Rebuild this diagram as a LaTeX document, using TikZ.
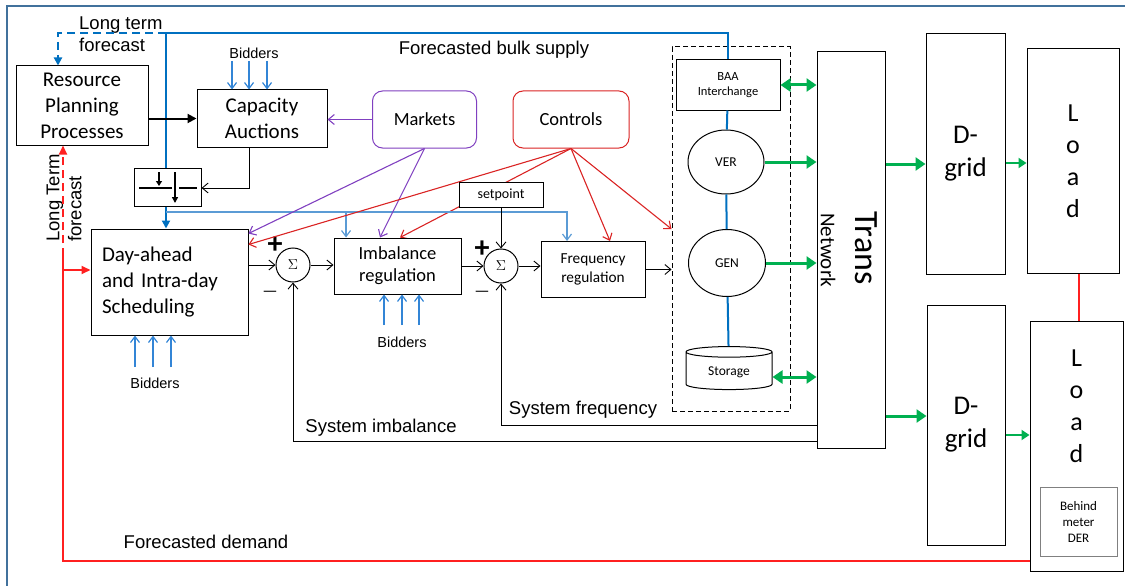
\documentclass[tikz,border=0pt]{standalone}
\usepackage{fontspec}
\setmainfont{Carlito}
\newfontfamily\arialf{Liberation Sans}
\usetikzlibrary{shapes.geometric, arrows.meta, positioning, backgrounds}
\definecolor{lineblue}{RGB}{0,112,192}
\definecolor{thinblue}{RGB}{91,155,213}
\definecolor{bidblue}{RGB}{51,133,214}
\definecolor{mktpurple}{RGB}{128,64,192}
\definecolor{ctrlred}{RGB}{218,36,36}
\definecolor{fcred}{RGB}{255,32,32}
\definecolor{flowgreen}{RGB}{0,176,80}
\definecolor{frameblue}{RGB}{65,113,156}
\newcommand{\fbig}{\fontsize{21}{26}\selectfont}
\newcommand{\fmid}{\fontsize{18.5}{22}\selectfont}
\newcommand{\fsmall}{\fontsize{13.5}{15}\selectfont}

\begin{document}
\begin{tikzpicture}[
  x=1pt, y=-1pt,
  box/.style={rectangle, draw, line width=1pt, fill=white, align=center, inner sep=2pt},
  softbox/.style={rectangle, rounded corners=10pt, draw, line width=1pt, fill=white, align=center, font=\fmid},
  sumnode/.style={circle, draw, line width=1pt, minimum size=34pt, inner sep=0pt, fill=white, font=\fontsize{15}{16}\selectfont},
  sign/.style={font=\fontsize{30}{30}\selectfont\bfseries, inner sep=0pt},
  minus/.style={font=\fontsize{17}{17}\selectfont, inner sep=0pt},
  lbl/.style={font=\arialf\fontsize{18.5}{22}\selectfont, inner sep=1pt},
  bidlbl/.style={font=\arialf\fontsize{14.5}{17}\selectfont, inner sep=1pt},
  sig/.style={line width=0.9pt, -{Straight Barb[length=6pt,width=10pt]}},
  bidarrow/.style={bidblue, line width=1.2pt, -{Straight Barb[length=6pt,width=9pt]}},
  feed/.style={lineblue, line width=2pt},
  flow/.style={flowgreen, line width=3pt, -{Triangle[length=10pt,width=13pt]}},
  demand/.style={fcred, line width=2pt},
  longdash/.style={dash pattern=on 8pt off 5pt}
]
  \useasboundingbox (0,0) rectangle (1125,586);
  \draw[frameblue, line width=2pt] (7,586) -- (7,6) -- (1125,6);

  % planning and markets
  \node[box, minimum width=132pt, minimum height=79pt, font=\fbig] (rpp) at (82,105.5) {Resource\\Planning\\Processes};
  \node[box, minimum width=130pt, minimum height=57pt, font=\fbig] (cap) at (262,118.5) {Capacity\\Auctions};
  \node[softbox, draw=mktpurple, minimum width=104pt, minimum height=57pt] (mkt) at (424.5,119.5) {Markets};
  \node[softbox, draw=ctrlred, minimum width=116pt, minimum height=57pt] (ctrl) at (571,119.5) {Controls};
  \node[box, minimum width=67pt, minimum height=38pt] (sw) at (167.5,187) {};

  % scheduling and regulation
  \node[box, minimum width=157pt, minimum height=106pt, text width=135pt, inner xsep=11pt, align=left, font=\fbig] (day) at (169.5,282) {Day-ahead\\and Intra-day\\Scheduling};
  \node[sumnode] (sum1) at (293,265) {$\Sigma$};
  \node[box, minimum width=127pt, minimum height=56pt, font=\fmid] (imb) at (397.5,266) {Imbalance\\regulation};
  \node[sumnode] (sum2) at (501,266) {$\Sigma$};
  \node[box, minimum width=104pt, minimum height=56pt, font=\fontsize{15.3}{19}\selectfont] (freq) at (593,269.5) {Frequency\\regulation};

  % resources
  \node[draw, dash pattern=on 5pt off 3pt, line width=1pt, minimum width=118pt, minimum height=364pt] (grp) at (731,229) {};
  \node[box, minimum width=104pt, minimum height=50pt, font=\fontsize{12.5}{15}\selectfont] (baa) at (728,85) {BAA\\Interchange};
  \node[ellipse, draw, line width=1pt, fill=white, minimum width=76pt, minimum height=64pt, font=\fsmall] (ver) at (726,162) {VER};
  \node[ellipse, draw, line width=1pt, fill=white, minimum width=77pt, minimum height=67pt, font=\fsmall] (gen) at (727,263) {GEN};
  \node[cylinder, shape border rotate=90, aspect=0.22, draw, line width=1pt, fill=white, minimum width=86pt, minimum height=43pt, font=\fsmall] (sto) at (729,372) {Storage};

  % network, distribution, load
  \node[box, minimum width=68pt, minimum height=397pt] (trans) at (851,250) {};
  \node[rotate=-90, font=\fontsize{34}{40}\selectfont] (transl) at (866,248) {Trans};
  \node[rotate=-90, font=\fontsize{21}{24}\selectfont] (netl) at (828,250) {Network};
  \node[box, minimum width=79pt, minimum height=240pt, font=\fontsize{27}{33}\selectfont] (dg1) at (965.5,154) {D-\\grid};
  \node[box, minimum width=78pt, minimum height=240pt, font=\fontsize{27}{33}\selectfont] (dg2) at (966,425) {D-\\grid};
  \node[box, minimum width=92pt, minimum height=224pt, font=\fontsize{26}{32}\selectfont] (ld1) at (1073,161) {L\\o\\a\\d};
  \node[box, minimum width=93pt, minimum height=250pt] (ld2) at (1076.5,446) {};
  \node[font=\fontsize{26}{32}\selectfont, align=center] (ld2l) at (1076.5,406) {L\\o\\a\\d};
  \node[box, draw=gray, minimum width=77pt, minimum height=69pt, font=\fontsize{13}{16}\selectfont] (der) at (1078.5,521.5) {Behind\\meter\\DER};

  % labels
  \node[lbl, anchor=west, align=left, fill=white] (ltf) at (78,34) {Long term\\forecast};
  \node[lbl, rotate=90, align=left] (ltf2) at (64,198) {Long Term\\forecast};
  \node[lbl] (bulk) at (494,50) {Forecasted bulk supply};
  \node[bidlbl] (bid1) at (254,53) {Bidders};
  \node[bidlbl] (bid2) at (155,383) {Bidders};
  \node[bidlbl] (bid3) at (402,342) {Bidders};
  \node[lbl] (sysimb) at (381,428) {System imbalance};
  \node[lbl] (sysfreq) at (583,410) {System frequency};
  \node[lbl] (fdem) at (206,542) {Forecasted demand};
  \node[sign] (p1) at (275,245) {+};
  \node[minus] (m1) at (270,294) {—};
  \node[sign] (p2) at (482,249) {+};
  \node[minus] (m2) at (482,294) {—};

  % bulk supply feeds
  \coordinate (fork) at (166,33);
  \draw[feed, longdash, -{Triangle[length=8pt,width=8pt]}] (fork) -- (58,33) -- (rpp.north -| 58,0);
  \draw[feed] (fork) -- (baa.north |- fork) -- (baa.north);
  \draw[feed] (fork) -- (sw.north -| fork);
  \draw[feed, -{Triangle[length=8pt,width=8pt]}] (sw.south -| fork) -- (day.north -| fork);
  \draw[thinblue, line width=1.2pt, -{Straight Barb[length=6pt,width=9pt]}] (fork |- 0,212) -- (567,212) -- (freq.north -| 567,0);
  \draw[thinblue, line width=1.2pt, -{Straight Barb[length=6pt,width=9pt]}] (346,212) -- (imb.north -| 346,0);
  \draw[feed] (baa) -- (ver);
  \draw[feed] (ver) -- (gen);
  \draw[feed] (gen) -- (sto);

  % switch
  \draw[line width=2pt] (139,188) -- (172,188) (179,188) -- (197,188);
  \draw[line width=1.6pt, -{Triangle[length=6pt,width=6pt]}] (175,172) -- (175,203);
  \draw[line width=1.6pt, -{Triangle[length=5pt,width=6pt]}] (159,172) -- (159,186);

  % bidders
  \foreach \x in {232,249,267} \draw[bidarrow] (\x,61) -- (cap.north -| \x,0);
  \foreach \x in {135,153,171} \draw[bidarrow] (\x,367) -- (day.south -| \x,0);
  \foreach \x in {384,402,419} \draw[bidarrow] (\x,325) -- (imb.south -| \x,0);

  % signal chain
  \draw[line width=2pt, -{Triangle[length=9pt,width=9pt]}] (rpp.east |- cap.west) -- (cap.west);
  \draw[sig] (cap.south -| 249,0) -- (249,188) -- (sw.east |- 0,188);
  \draw[sig] (day.east |- sum1.west) -- (sum1.west);
  \draw[sig] (sum1.east) -- (imb.west |- sum1.east);
  \draw[sig] (imb.east |- sum2.west) -- (sum2.west);
  \draw[sig] (sum2.east) -- (freq.west |- sum2.east);
  \draw[sig] (freq.east) -- (freq.east -| grp.west);
  \draw[sig] (trans.west |- 0,441) -- (sum1.south |- 0,441) -- (sum1.south);
  \draw[sig] (trans.west |- 0,425) -- (sum2.south |- 0,425) -- (sum2.south);

  % markets and controls
  \draw[mktpurple, line width=1.1pt, -{Straight Barb[length=6pt,width=10pt]}] (mkt.west) -- (cap.east |- mkt.west);
  \draw[mktpurple, line width=1.1pt, -{Straight Barb[length=6pt,width=10pt]}] (mkt.south) -- ([yshift=-5pt]day.north east);
  \draw[mktpurple, line width=1.1pt, -{Straight Barb[length=6pt,width=10pt]}] (mkt.south) -- (imb.north -| 380,0);
  \draw[ctrlred, line width=1.1pt, -{Straight Barb[length=6pt,width=10pt]}] (ctrl.south) -- ([yshift=-16pt]day.north east);
  \begin{scope}[on background layer]
    \draw[ctrlred, line width=1.1pt, -{Straight Barb[length=6pt,width=10pt]}] (ctrl.south) -- (imb.north -| 400,0);
  \end{scope}
  \draw[ctrlred, line width=1.1pt, -{Straight Barb[length=6pt,width=10pt]}] (ctrl.south) -- (freq.north -| 610,0);
  \draw[ctrlred, line width=1.1pt, -{Straight Barb[length=6pt,width=10pt]}] (ctrl.south) -- (grp.west);
  \node[box, minimum width=84pt, minimum height=25pt, font=\fontsize{14}{16}\selectfont] (setp) at (501,194.5) {setpoint};
  \draw[sig] (setp.south) -- (sum2.north);

  % power flows
  \draw[flow, {Triangle[length=10pt,width=13pt]}-{Triangle[length=10pt,width=13pt]}] (baa.east) -- (baa.east -| trans.west);
  \draw[flow] (ver.east) -- (ver.east -| trans.west);
  \draw[flow] (gen.east) -- (gen.east -| trans.west);
  \draw[flow, {Triangle[length=10pt,width=13pt]}-{Triangle[length=10pt,width=13pt]}] (sto.east |- 0,377) -- (trans.west |- 0,377);
  \draw[flow] (trans.east |- 0,164) -- (dg1.west |- 0,164);
  \draw[flow] (trans.east |- 0,416) -- (dg2.west |- 0,416);
  \draw[flow, line width=2.5pt, -{Triangle[length=8pt,width=10pt]}] (dg1.east |- 0,163) -- (ld1.west |- 0,163);
  \draw[flow, line width=2.5pt, -{Triangle[length=8pt,width=10pt]}] (dg2.east |- 0,435) -- (ld2.west |- 0,435);

  % forecasted demand
  \draw[demand] ([xshift=6pt]ld1.south) -- ([xshift=6pt]ld1.south |- ld2.north);
  \coordinate (fd) at (63,270);
  \draw[demand] (ld2.west |- 0,561) -- (63,561) -- (63,256);
  \draw[demand, -{Triangle[length=9pt,width=8pt]}] (fd) -- (day.west |- fd);
  \draw[demand, longdash, -{Triangle[length=9pt,width=8pt]}] (63,256) -- (rpp.south -| 63,0);
\end{tikzpicture}
\end{document}
